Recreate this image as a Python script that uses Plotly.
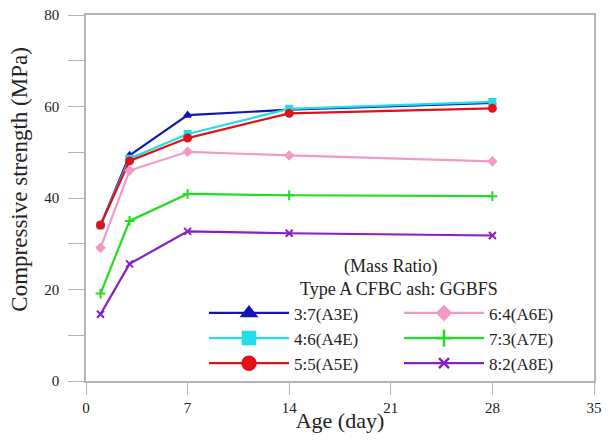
import plotly.graph_objects as go

age = [1, 3, 7, 14, 28]

names = ["3:7(A3E)", "4:6(A4E)", "5:5(A5E)", "6:4(A6E)", "7:3(A7E)", "8:2(A8E)"]
a3e = [34.0, 49.3, 58.1, 59.3, 60.8]
a4e = [34.0, 48.6, 54.0, 59.5, 61.0]
a5e = [34.1, 48.1, 53.1, 58.5, 59.6]
a6e = [29.1, 46.0, 50.1, 49.3, 48.0]
a7e = [19.1, 35.0, 40.9, 40.6, 40.4]
a8e = [14.6, 25.6, 32.7, 32.3, 31.8]

xticks = [0, 7, 14, 21, 28, 35]
yticks = [0, 20, 40, 60, 80]

FONT = "Liberation Serif"

# color, symbol, marker size on data, marker size in legend
styles = [
    ("#1414b4", "triangle-up", 6, 12),
    ("#22dde6", "square", 6, 12),
    ("#e2101a", "circle", 7, 13),
    ("#f29ac6", "diamond", 6, 10),
    ("#22dd22", "cross-thin-open", 7, 12),
    ("#8a1ec0", "x-thin-open", 7, 10),
]
series = [a3e, a4e, a5e, a6e, a7e, a8e]
# legend row-major order: left col A3E,A4E,A5E ; right col A6E,A7E,A8E
ranks = [1, 3, 5, 2, 4, 6]

fig = go.Figure()
for (color, sym, size, lsize), vals, name, rk in zip(styles, series, names, ranks):
    fig.add_trace(go.Scatter(
        x=age, y=vals, name=name, mode="lines+markers", legendgroup=name, showlegend=False,
        line=dict(color=color, width=2.2),
        marker=dict(symbol=sym, size=size, color=color, line=dict(color=color, width=2)),
    ))
    # legend-only entry with larger symbols (no data points)
    fig.add_trace(go.Scatter(
        x=[None], y=[None], name=name, mode="lines+markers", legendgroup=name, legendrank=rk,
        line=dict(color=color, width=2.2),
        marker=dict(symbol=sym, size=lsize, color=color, line=dict(color=color, width=2.5)),
    ))

fig.update_layout(
    template="none",
    width=602, height=425,
    margin=dict(l=78, r=16, t=7, b=52),
    paper_bgcolor="white", plot_bgcolor="white",
    font=dict(family=FONT, color="#222222"),
    showlegend=True,
    legend=dict(
        orientation="h",
        x=1.0, xanchor="right", y=0.0, yanchor="bottom",
        itemwidth=80,
        entrywidth=100, entrywidthmode="pixels",
        tracegroupgap=0,
        font=dict(family=FONT, size=17, color="#222222"),
        title=dict(text="Type A CFBC ash: GGBFS", side="top center",
                   font=dict(family=FONT, size=18, color="#222222")),
        bgcolor="rgba(0,0,0,0)",
    ),
    annotations=[
        dict(text="(Mass Ratio)", xref="paper", yref="paper", x=0.60, y=0.312,
             xanchor="center", yanchor="middle", showarrow=False,
             font=dict(family=FONT, size=18, color="#222222")),
        dict(text="Compressive strength (MPa)", xref="paper", yref="paper", x=-0.13, y=0.55,
             xanchor="center", yanchor="middle", showarrow=False, textangle=-90,
             font=dict(family=FONT, size=23, color="#222222")),
    ],
    xaxis=dict(
        range=[0, 35], tickvals=xticks, ticktext=[str(v) for v in xticks],
        showgrid=False, zeroline=False, automargin=False, ticklabeloverflow="allow",
        showline=True, linecolor="#b4b4b4", linewidth=1.5, mirror=True,
        ticks="outside", ticklen=12, tickcolor="#b4b4b4",
        tickfont=dict(family=FONT, size=15),
        title=dict(text="Age (day)", font=dict(family=FONT, size=22), standoff=10),
    ),
    yaxis=dict(
        range=[0, 80], tickvals=yticks, ticktext=[str(v) for v in yticks],
        showgrid=False, zeroline=False, automargin=False, ticklabeloverflow="allow",
        showline=True, linecolor="#b4b4b4", linewidth=1.5, mirror=True,
        ticks="outside", ticklen=16, tickcolor="#b4b4b4", ticklabelstandoff=6,
        tickfont=dict(family=FONT, size=15),
        minor=dict(dtick=10, ticks="outside", ticklen=16, tickcolor="#b4b4b4"),
    ),
)

fig.write_html("out.html")
